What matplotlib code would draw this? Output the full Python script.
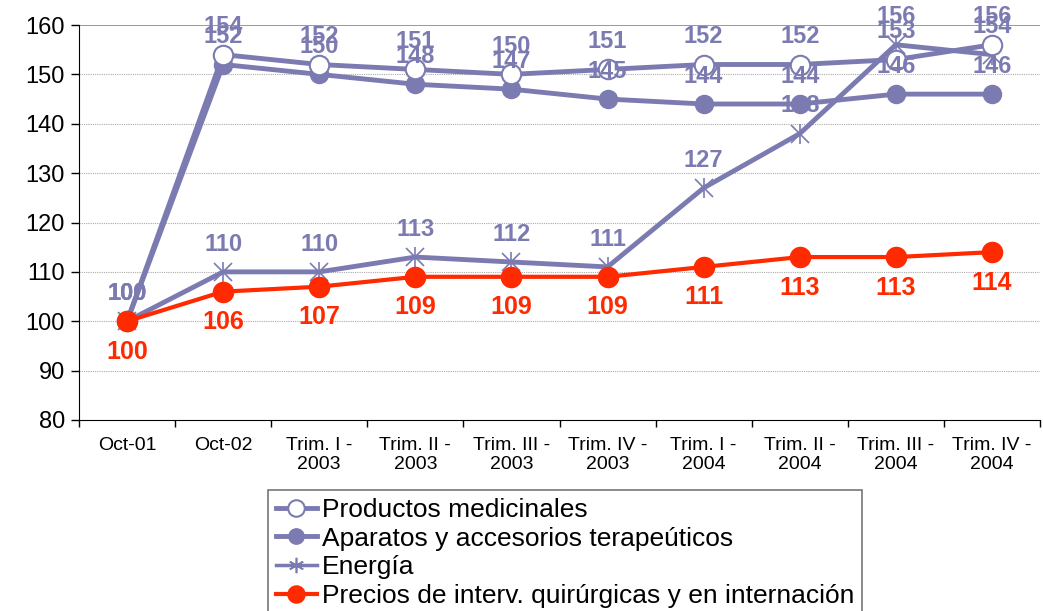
import matplotlib
matplotlib.use("Agg")
import matplotlib.pyplot as plt
from matplotlib.lines import Line2D
import numpy as np

categories = ["Oct-01", "Oct-02", "Trim. I -\n2003", "Trim. II -\n2003", "Trim. III -\n2003",
              "Trim. IV -\n2003", "Trim. I -\n2004", "Trim. II -\n2004", "Trim. III -\n2004",
              "Trim. IV -\n2004"]
productos = [100, 154, 152, 151, 150, 151, 152, 152, 153, 156]
aparatos = [100, 152, 150, 148, 147, 145, 144, 144, 146, 146]
energia = [100, 110, 110, 113, 112, 111, 127, 138, 156, 154]
precios = [100, 106, 107, 109, 109, 109, 111, 113, 113, 114]

series_names = ["Productos medicinales", "Aparatos y accesorios terapeúticos",
                "Energía", "Precios de interv. quirúrgicas y en internación"]

plt.rcParams['font.family'] = ['Liberation Sans', 'DejaVu Sans']

blue = '#7B7BB2'
red = '#FF2A00'

fig = plt.figure(figsize=(10.43, 6.11), dpi=100)
ax = fig.add_axes([79 / 1043, 1 - 420 / 611, (1040 - 79) / 1043, 395 / 611])

x = np.arange(len(categories))

h1, = ax.plot(x, productos, color=blue, lw=3.5, marker='o', ms=14,
              mfc='white', mec=blue, mew=1.5, zorder=4)
h2, = ax.plot(x, aparatos, color=blue, lw=3.5, marker='o', ms=13,
              mfc=blue, mec=blue, zorder=3)
h3, = ax.plot(x, energia, color=blue, lw=3.5, marker='x', ms=13,
              mec=blue, mew=1.2, zorder=3)
h4, = ax.plot(x, precios, color=red, lw=3, marker='o', ms=14.5,
              mfc=red, mec=red, zorder=5)
# vertical stroke turns the x marker into an asterisk
ax.plot(x, energia, ls='none', marker='|', ms=15, mec=blue, mew=1.2, zorder=3)

for series in (productos, aparatos, energia):
    for xi, v in zip(x, series):
        ax.annotate(f"{v}", (xi, v), xytext=(0, 20), textcoords='offset points',
                    ha='center', va='center', fontsize=17, fontweight='bold',
                    color=blue, zorder=6)
for xi, v in zip(x, precios):
    ax.annotate(f"{v}", (xi, v), xytext=(0, -22), textcoords='offset points',
                ha='center', va='center', fontsize=18, fontweight='bold',
                color=red, zorder=6)

ax.set_xlim(-0.5, len(categories) - 0.5)
ax.set_ylim(80, 160)
ax.set_yticks(range(80, 161, 10))
ax.tick_params(axis='y', labelsize=17, length=6, direction='out', width=1, pad=4)
ax.set_xticks(x)
ax.set_xticklabels(categories, fontsize=14, linespacing=1.15)
ax.tick_params(axis='x', length=0, pad=12)
ax.set_xticks(np.arange(-0.5, len(categories), 1.0), minor=True)
ax.tick_params(axis='x', which='minor', length=5, direction='out', width=1)

for v in range(90, 160, 10):
    ax.axhline(v, color='#AAAAAA', lw=0.8, ls=(0, (1, 1)), zorder=1)
ax.axhline(160, color='#888888', lw=1.2, zorder=1)

ax.spines['top'].set_visible(False)
ax.spines['right'].set_visible(False)
ax.spines['left'].set_color('black')
ax.spines['bottom'].set_color('black')

h3_leg = Line2D([], [], color=blue, lw=2.5, marker=(6, 2, 0), ms=13, mec=blue, mew=1.2)

leg = fig.legend([h1, h2, h3_leg, h4], series_names, loc='upper left',
                 bbox_to_anchor=(268 / 1043, 1 - 490 / 611), fontsize=19,
                 frameon=True, fancybox=False, edgecolor='#555555',
                 handlelength=1.55, handletextpad=0.2, labelspacing=0.18,
                 borderpad=0.3, borderaxespad=0, markerscale=0.85)
leg.get_frame().set_linewidth(1.2)

fig.savefig("out.png", dpi=100)
